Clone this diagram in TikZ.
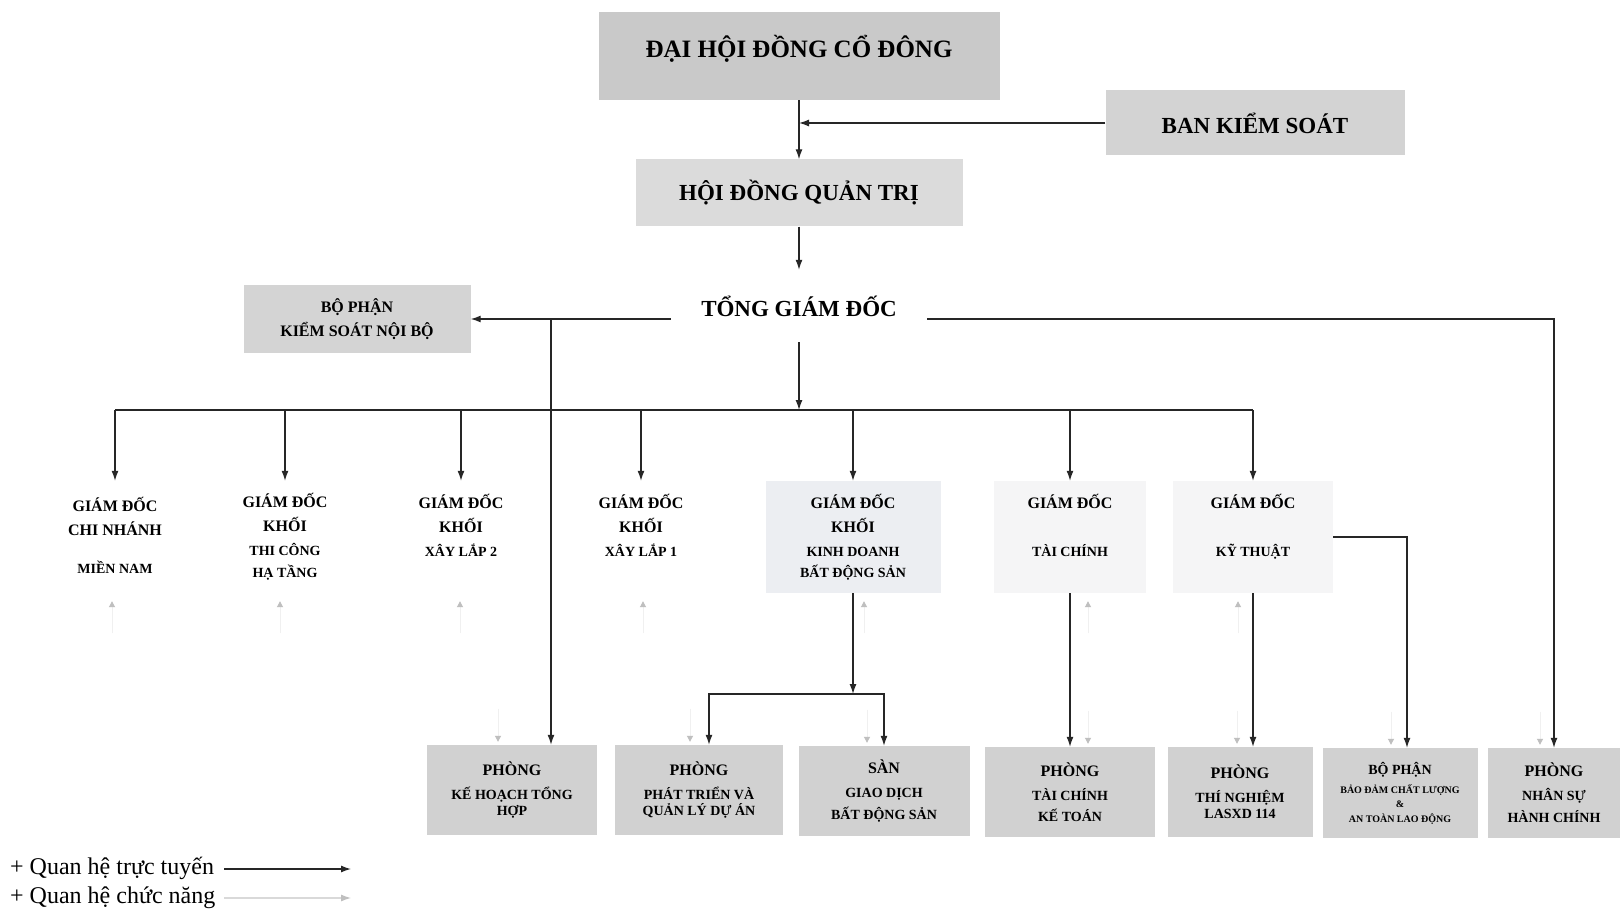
\documentclass[tikz,border=0pt]{standalone}
\usepackage{fontspec}
\setmainfont{Liberation Serif}
\usetikzlibrary{arrows.meta}
\definecolor{topgray}{HTML}{C9C9C9}
\definecolor{bksgray}{HTML}{D3D3D3}
\definecolor{hdqtgray}{HTML}{DBDBDB}
\definecolor{ksnbgray}{HTML}{D4D4D4}
\definecolor{deptgray}{HTML}{D1D1D1}
\definecolor{kdgray}{HTML}{ECEEF2}
\definecolor{lightbox}{HTML}{F5F5F6}
\newcommand{\sm}{\fontsize{14}{24}\selectfont}
\newcommand{\tn}{\fontsize{10}{24}\selectfont}
\tikzset{%
  >={Latex[width=7pt,length=10pt]},
  % Specifications for style of nodes:
     base/.style = {rectangle, align=center, inner sep=0pt,
                    font=\bfseries\fontsize{16}{24}\selectfont},
  headbox/.style = {base, font=\bfseries\fontsize{23}{28}\selectfont},
    gdbox/.style = {base, minimum width=160pt, minimum height=112pt},
  deptbox/.style = {base, fill=deptgray, minimum height=90pt},
   legend/.style = {inner sep=0pt, font=\fontsize{24}{29}\selectfont},
     line/.style = {draw=black!85, line width=1.3pt},
     func/.style = {draw=black!6, line width=1pt,
                    -{Triangle[width=6pt,length=6pt,color=black!25]}},
}
\begin{document}
\begin{tikzpicture}[x=1pt, y=-1pt, node distance=137pt]
  \fill[white] (0,0) rectangle (1620,912);
  \useasboundingbox (0,0) rectangle (1620,912);
  % Top of the organisation
  \node (dhcd) [headbox, font=\bfseries\fontsize{25}{30}\selectfont, text depth=20pt,
                fill=topgray, minimum width=401pt, minimum height=88pt] at (799,56) {ĐẠI HỘI ĐỒNG CỔ ĐÔNG};
  \node (bks)  [headbox, fill=bksgray, minimum width=299pt, minimum height=65pt] at (1255,123) {BAN KIỂM SOÁT};
  \node (hdqt) [headbox, fill=hdqtgray, minimum width=327pt, minimum height=67pt, below of=dhcd] {HỘI ĐỒNG QUẢN TRỊ};
  \node (tgd)  [headbox, minimum width=256pt, minimum height=72pt, below of=hdqt, yshift=24pt] {TỔNG GIÁM ĐỐC};
  \node (ksnb) [base, fill=ksnbgray, minimum width=227pt, minimum height=68pt] at (357,319) {BỘ PHẬN\\KIỂM SOÁT NỘI BỘ};

  % Directors
  \coordinate (bus) at (799,410);
  \node (gd1) [gdbox] at (115,535) {GIÁM ĐỐC\\CHI NHÁNH\\[14pt]{\sm MIỀN NAM}};
  \node (gd2) [gdbox] at (285,537) {GIÁM ĐỐC\\KHỐI\\{\sm THI CÔNG}\\[-2pt]{\sm HẠ TẦNG}};
  \node (gd3) [gdbox] at (461,537) {GIÁM ĐỐC\\KHỐI\\{\sm XÂY LẮP 2}\\\mbox{}};
  \node (gd4) [gdbox] at (641,537) {GIÁM ĐỐC\\KHỐI\\{\sm XÂY LẮP 1}\\\mbox{}};
  \node (gd5) [gdbox, fill=kdgray, minimum width=175pt] at (853,537) {GIÁM ĐỐC\\KHỐI\\{\sm KINH DOANH}\\[-3pt]{\sm BẤT ĐỘNG SẢN}};
  \node (gd6) [gdbox, fill=lightbox, minimum width=152pt] at (1070,537) {GIÁM ĐỐC\\[24pt]{\sm TÀI CHÍNH}\\\mbox{}};
  \node (gd7) [gdbox, fill=lightbox] at (1253,537) {GIÁM ĐỐC\\[24pt]{\sm KỸ THUẬT}\\\mbox{}};

  % Departments
  \node (khth) [deptbox, minimum width=170pt] at (512,790) {PHÒNG\\{\sm KẾ HOẠCH TỔNG}\\[-8pt]{\sm HỢP}};
  \node (ptql) [deptbox, minimum width=168pt] at (699,790) {PHÒNG\\{\sm PHÁT TRIỂN VÀ}\\[-8pt]{\sm QUẢN LÝ DỰ ÁN}};
  \node (san)  [deptbox, minimum width=171pt] at (884,791) {SÀN\\{\sm GIAO DỊCH}\\[-2pt]{\sm BẤT ĐỘNG SẢN}};
  \node (tckt) [deptbox, minimum width=170pt] at (1070,792) {PHÒNG\\{\sm TÀI CHÍNH}\\[-3pt]{\sm KẾ TOÁN}};
  \node (lab)  [deptbox, minimum width=145pt] at (1240,792) {PHÒNG\\{\sm THÍ NGHIỆM}\\[-8pt]{\sm LASXD 114}};
  \node (bdcl) [deptbox, minimum width=155pt] at (1400,793) {{\sm BỘ PHẬN}\\[-5pt]{\tn BẢO ĐẢM CHẤT LƯỢNG}\\[-10pt]{\tn \&}\\[-9pt]{\tn AN TOÀN LAO ĐỘNG}};
  \node (nshc) [deptbox, minimum width=132pt] at (1554,793) {PHÒNG\\{\sm NHÂN SỰ}\\[-2pt]{\sm HÀNH CHÍNH}};

  % Line relations
  \draw[line, ->] (dhcd) -- (hdqt);
  \draw[line, ->] (bks.west) -- (bks.west -| dhcd.south);
  \draw[line, ->] (hdqt) -- (tgd);
  \draw[line, ->] (tgd.west |- ksnb.east) -- (ksnb.east);
  \draw[line, ->] (tgd.east |- ksnb.east) -| (nshc.north);
  \coordinate (jkh) at (551,319);
  \draw[line, ->] (jkh) -- (jkh |- khth.north);
  \draw[line, ->] (tgd) -- (bus);
  \draw[line] (bus -| gd1.north) -- (bus -| gd7.north);
  \foreach \n in {gd1,gd2,gd3,gd4,gd5,gd6,gd7}
    \draw[line, ->] (bus -| \n.north) -- (\n.north |- gd3.north);
  \coordinate (kdj) at (853,694);
  \draw[line, ->] (gd5.south) -- (kdj);
  \draw[line, ->] (kdj) -| ([xshift=10pt]ptql.north);
  \draw[line, ->] (kdj) -| (san.north);
  \draw[line, ->] (gd6.south) -- (tckt.north);
  \draw[line, ->] (gd7.south) -- (gd7.south |- lab.north);
  \draw[line, ->] (gd7.east) -| ([xshift=7pt]bdcl.north);

  % Functional relations (faint)
  \foreach \n/\d in {gd1/-3, gd2/-5, gd3/-1, gd4/2, gd5/11, gd6/18, gd7/-15}
    \draw[func] ([xshift=\d pt, yshift=-40pt]\n.south |- gd3.south) -- ([xshift=\d pt, yshift=-8pt]\n.south |- gd3.south);
  \foreach \n/\d in {khth/-14, ptql/-9, san/-17, tckt/18, lab/-3, bdcl/-9, nshc/-14}
    \draw[func] ([xshift=\d pt, yshift=36pt]\n.north) -- ([xshift=\d pt, yshift=3pt]\n.north);

  % Legend
  \node (lg1) [legend, anchor=west] at (10,868) {+ Quan hệ trực tuyến};
  \node (lg2) [legend, anchor=west] at (10,898) {+ Quan hệ chức năng};
  \coordinate (lg1s) at (224,869);
  \coordinate (lg1e) at (351,869);
  \coordinate (lg2s) at (224,898);
  \coordinate (lg2e) at (351,898);
  \draw[line, ->] (lg1s) -- (lg1e);
  \draw[draw=black!15, line width=1.2pt, -{Latex[width=7pt,length=10pt,color=black!25]}] (lg2s) -- (lg2e);
\end{tikzpicture}
\end{document}
